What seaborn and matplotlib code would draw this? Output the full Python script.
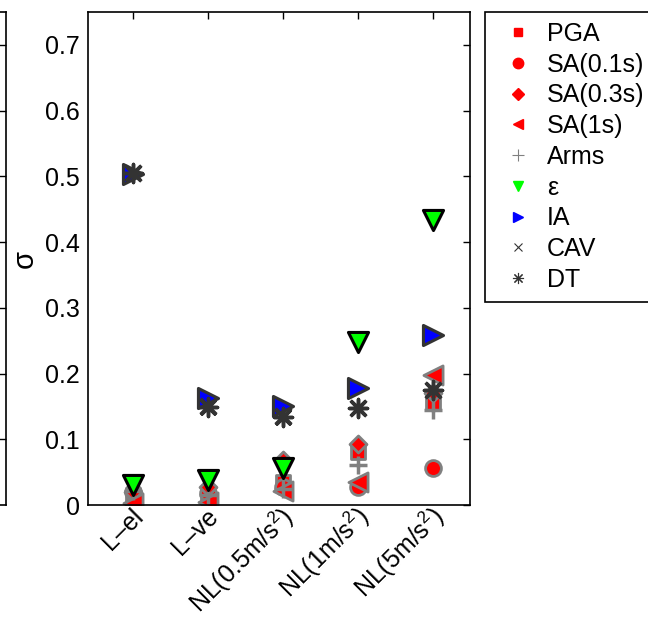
import matplotlib
matplotlib.use("Agg")
import matplotlib.pyplot as plt
from matplotlib.lines import Line2D
from matplotlib.transforms import ScaledTranslation
import seaborn as sns
import pandas as pd

# data
categories = ['L\u2013el', 'L\u2013ve', 'NL(0.5m/s$^2$)', 'NL(1m/s$^2$)', 'NL(5m/s$^2$)']
pga = [0.015, 0.012, 0.035, 0.080, 0.155]
sa01 = [0.020, 0.018, 0.028, 0.028, 0.056]
sa03 = [0.020, 0.027, 0.068, 0.093, 0.170]
sa1 = [0.003, 0.005, 0.022, 0.035, 0.198]
arms = [0.022, 0.015, 0.025, 0.061, 0.145]
eps = [0.030, 0.038, 0.056, 0.248, 0.434]
ia = [0.504, 0.163, 0.150, 0.178, 0.259]
cav = [0.505, 0.150, 0.135, 0.148, 0.175]
dt = [0.505, 0.149, 0.134, 0.148, 0.175]

series_names = ['PGA', 'SA(0.1s)', 'SA(0.3s)', 'SA(1s)', 'Arms', '\u03b5', 'IA', 'CAV', 'DT']
series_values = [pga, sa01, sa03, sa1, arms, eps, ia, cav, dt]

sns.set_style('white')
plt.rcParams['font.family'] = ['Liberation Sans', 'DejaVu Sans']
plt.rcParams['mathtext.fontset'] = 'custom'
plt.rcParams['mathtext.rm'] = 'Liberation Sans'
plt.rcParams['mathtext.it'] = 'Liberation Sans:italic'
for key in ['text.color', 'axes.labelcolor', 'xtick.color', 'ytick.color']:
    plt.rcParams[key] = 'black'

df = pd.concat(
    [pd.DataFrame({'pos': range(1, len(categories) + 1), 'sigma': vals, 'measure': name})
     for name, vals in zip(series_names, series_values)],
    ignore_index=True)

# marker styles: (marker, size, face, edge, linewidth, legend size)
styles = {
    'PGA': ('s', 110, 'red', '#808080', 2.0, 6),
    'SA(0.1s)': ('o', 130, 'red', '#808080', 2.0, 7.5),
    'SA(0.3s)': ('D', 75, 'red', '#808080', 2.0, 6),
    'SA(1s)': ('<', 190, 'red', '#808080', 2.0, 7.5),
    'Arms': ('+', 160, '#808080', None, 2.5, 8),
    '\u03b5': ('v', 210, '#00ff00', 'black', 2.2, 7.5),
    'IA': ('>', 210, 'blue', '#333333', 2.2, 7.5),
    'CAV': ('x', 130, '#333333', None, 2.5, 6),
    'DT': ((8, 2, 0), 170, '#333333', None, 2.5, 8),
}

fig = plt.figure(figsize=(6.48, 6.22), dpi=100)

# cropped neighbour panel on the far left
ghost = fig.add_axes([-0.5, 0.1881, 0.5093, 0.7926])
ghost.set_xlim(0, 1)
ghost.set_ylim(0, 0.75)
ghost.set_yticks([0.1, 0.2, 0.3, 0.4, 0.5, 0.6, 0.7])
ghost.set_xticks([])
ghost.tick_params(axis='y', direction='in', length=6, right=True, left=False,
                  labelleft=False, color='black', width=1)
for sp in ghost.spines.values():
    sp.set_color('black')
    sp.set_linewidth(1.2)

ax = fig.add_axes([0.1358, 0.1881, 0.5895, 0.7926])

handles = []
for name in series_names:
    marker, size, face, edge, lw, lsize = styles[name]
    sub = df[df['measure'] == name]
    if edge is None:
        sns.scatterplot(data=sub, x='pos', y='sigma', marker=marker, s=size,
                        color=face, linewidth=lw, ax=ax, legend=False)
        handles.append(Line2D([], [], linestyle='none', marker=marker, color=face,
                              markersize=lsize, markeredgewidth=0.8, label=name))
    else:
        sns.scatterplot(data=sub, x='pos', y='sigma', marker=marker, s=size,
                        color=face, edgecolor=edge, linewidth=lw, ax=ax, legend=False)
        handles.append(Line2D([], [], linestyle='none', marker=marker, markerfacecolor=face,
                              markeredgecolor=face, markersize=lsize, label=name))

ax.set_xlim(0.4, 5.5)
ax.set_ylim(0, 0.75)
ax.set_xticks(range(1, len(categories) + 1))
ax.set_xticklabels(categories, rotation=45, ha='right', va='center',
                   rotation_mode='anchor', fontsize=18)
yt = [0, 0.1, 0.2, 0.3, 0.4, 0.5, 0.6, 0.7]
ax.set_yticks(yt)
ax.set_yticklabels(['0', '0.1', '0.2', '0.3', '0.4', '0.5', '0.6', '0.7'], fontsize=18)
ax.tick_params(direction='in', length=5, width=1, color='black',
               top=True, right=True, pad=6)
ax.tick_params(axis='x', pad=9)
# nudge the rotated labels up and to the right (after tick_params, which resets transforms)
shift = ScaledTranslation(0.07, 0.05, fig.dpi_scale_trans)
for lab in ax.get_xticklabels():
    lab.set_transform(lab.get_transform() + shift)
ax.set_xlabel('')
ax.set_ylabel('\u03c3', fontsize=21)
ax.yaxis.set_label_coords(-0.13, 0.5)
for sp in ax.spines.values():
    sp.set_color('black')
    sp.set_linewidth(1.2)

leg = fig.legend(handles=handles, loc='upper left', bbox_to_anchor=(0.748, 0.981),
                 fontsize=18, frameon=True, fancybox=False, framealpha=1,
                 edgecolor='black', labelspacing=0.27, handlelength=1.84,
                 handletextpad=0.24, borderpad=0.4, borderaxespad=0)
leg.get_frame().set_linewidth(1.2)

fig.savefig('out.png', dpi=100)
